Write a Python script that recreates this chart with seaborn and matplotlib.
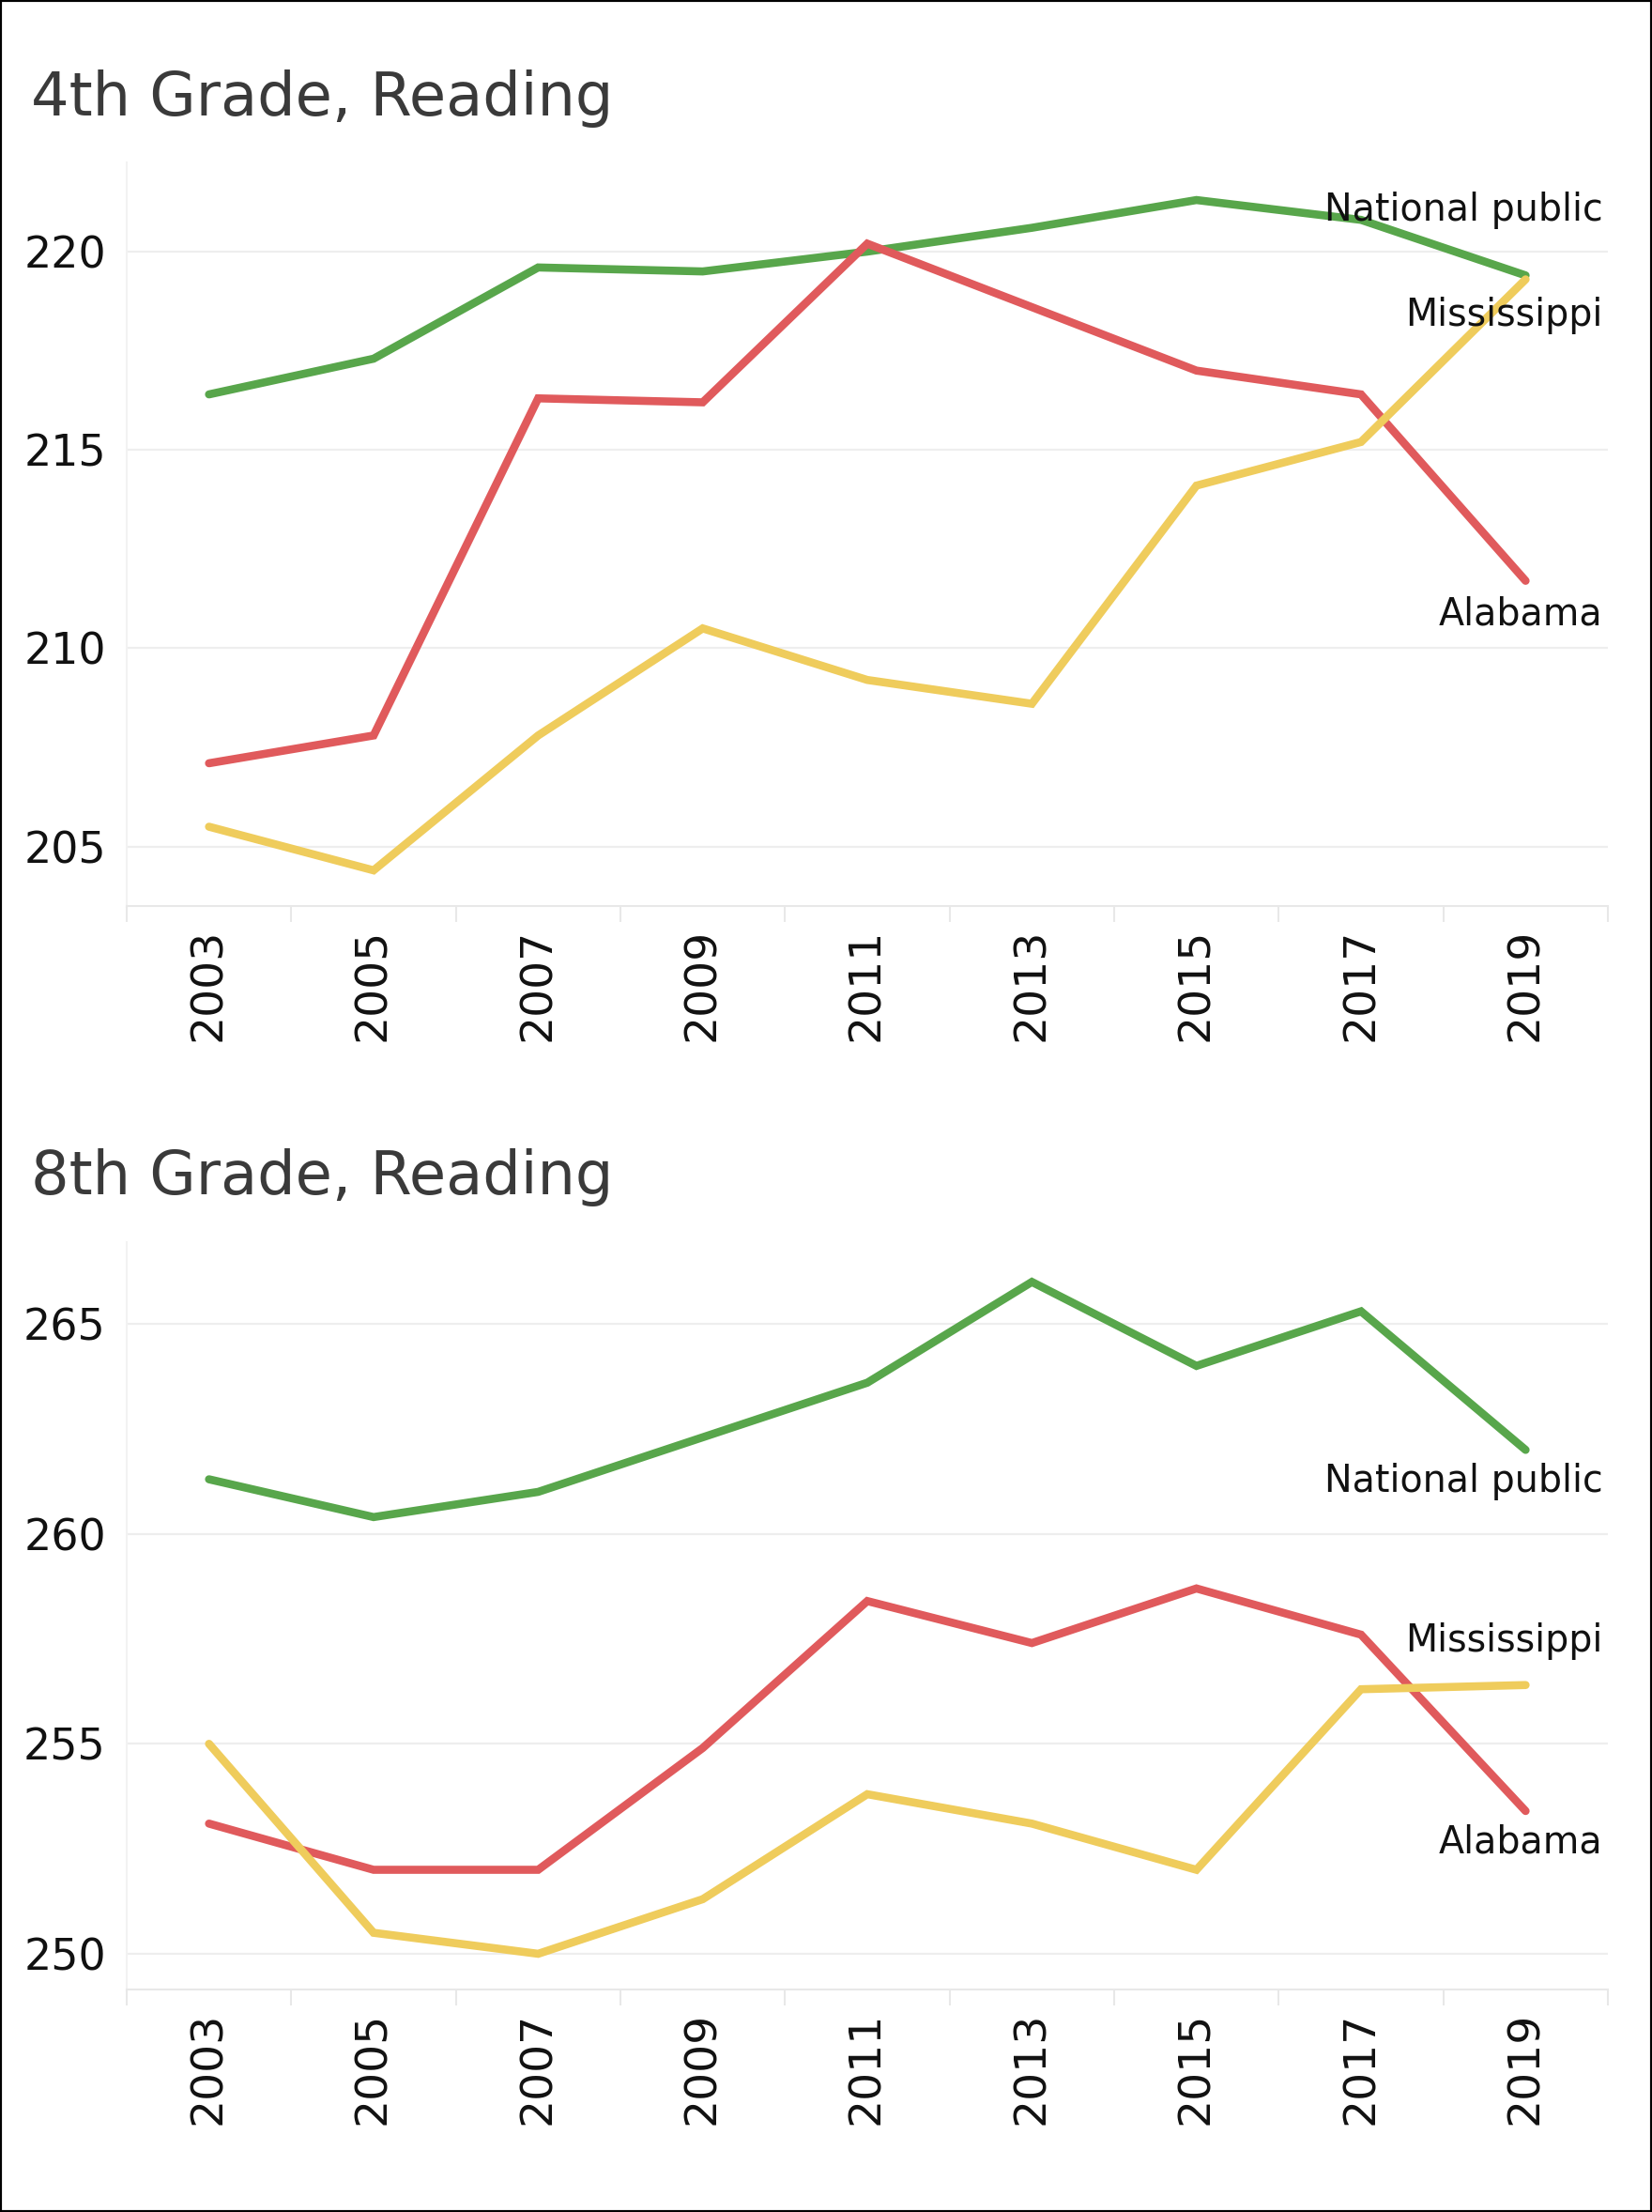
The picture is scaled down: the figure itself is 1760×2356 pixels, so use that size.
import matplotlib
matplotlib.use("Agg")
import matplotlib.pyplot as plt
from matplotlib.patches import Rectangle
from matplotlib.ticker import FixedLocator
import numpy as np
import pandas as pd
import seaborn as sns

# NAEP average reading scale scores
years = [2003, 2005, 2007, 2009, 2011, 2013, 2015, 2017, 2019]
series_names = ["National public", "Alabama", "Mississippi"]

g4_national = [216.4, 217.3, 219.6, 219.5, 220.0, 220.6, 221.3, 220.8, 219.4]
g4_alabama = [207.1, 207.8, 216.3, 216.2, 220.2, 218.6, 217.0, 216.4, 211.7]
g4_mississippi = [205.5, 204.4, 207.8, 210.5, 209.2, 208.6, 214.1, 215.2, 219.3]

g8_national = [261.3, 260.4, 261.0, 262.3, 263.6, 266.0, 264.0, 265.3, 262.0]
g8_alabama = [253.1, 252.0, 252.0, 254.9, 258.4, 257.4, 258.7, 257.6, 253.4]
g8_mississippi = [255.0, 250.5, 250.0, 251.3, 253.8, 253.1, 252.0, 256.3, 256.4]

panel_titles = ["4th Grade, Reading", "8th Grade, Reading"]
yticks_g4 = [205, 210, 215, 220]
yticks_g8 = [250, 255, 260, 265]

palette = {
    "National public": "#58a64b",
    "Alabama": "#e05a5c",
    "Mississippi": "#efcc5c",
}

# vertical offsets (points) of the end-of-line labels
label_offsets_g4 = {"National public": 50, "Mississippi": -28, "Alabama": -26}
label_offsets_g8 = {"National public": -24, "Mississippi": 34, "Alabama": -24}


def make_frame(national, alabama, mississippi):
    frames = []
    for name, vals in zip(series_names, [national, alabama, mississippi]):
        frames.append(pd.DataFrame({"year": years, "score": vals, "series": name}))
    df = pd.concat(frames, ignore_index=True)
    df["pos"] = df["year"].map({y: i for i, y in enumerate(years)})
    return df


sns.set_theme(style="white")
plt.rcParams["font.family"] = ["DejaVu Sans"]

fig = plt.figure(figsize=(17.6, 23.56), dpi=100)
fig.patch.set_facecolor("white")

ax_top = fig.add_axes([0.0767, 0.5904, 0.8966, 0.3362])
ax_bot = fig.add_axes([0.0767, 0.1006, 0.8966, 0.3379])

panels = [
    (ax_top, make_frame(g4_national, g4_alabama, g4_mississippi), yticks_g4,
     (203.5, 222.25), label_offsets_g4, 0.9480),
    (ax_bot, make_frame(g8_national, g8_alabama, g8_mississippi), yticks_g8,
     (249.15, 266.95), label_offsets_g8, 0.4600),
]

for (ax, df, yt, ylim, offsets, title_y), title in zip(panels, panel_titles):
    sns.lineplot(data=df, x="pos", y="score", hue="series", palette=palette,
                 hue_order=series_names, legend=False, ax=ax)
    for line in ax.lines:
        line.set_linewidth(6.2)
        line.set_solid_joinstyle("miter")
        line.set_solid_capstyle("round")
    ax.set_xlim(-0.5, len(years) - 0.5)
    ax.set_ylim(*ylim)
    ax.set_xlabel("")
    ax.set_ylabel("")

    ax.set_xticks(range(len(years)))
    ax.set_xticklabels([str(y) for y in years], rotation=90, fontsize=34,
                       color="#111111")
    ax.xaxis.set_minor_locator(FixedLocator(np.arange(-0.5, len(years), 1.0)))
    ax.tick_params(axis="x", which="major", length=0, pad=17)
    ax.tick_params(axis="x", which="minor", length=12, width=1.5,
                   color="#e8e8e8", direction="out")
    ax.tick_params(axis="x", which="both", bottom=True)

    ax.set_yticks(yt)
    ax.set_yticklabels([str(v) for v in yt], fontsize=33, color="#111111")
    ax.tick_params(axis="y", length=0, pad=16)
    ax.yaxis.grid(True, color="#eeeeee", linewidth=1.6)
    ax.xaxis.grid(False)
    ax.set_axisbelow(True)

    for side in ["top", "right"]:
        ax.spines[side].set_visible(False)
    ax.spines["left"].set_color("#f2f2f2")
    ax.spines["left"].set_linewidth(1.5)
    ax.spines["bottom"].set_color("#e8e8e8")
    ax.spines["bottom"].set_linewidth(1.5)

    # end-of-line series labels
    for name in series_names:
        end_val = df.loc[df["series"] == name, "score"].iloc[-1]
        ax.annotate(name, xy=(1.0, end_val),
                    xycoords=ax.get_yaxis_transform(),
                    xytext=(-4, offsets[name]), textcoords="offset points",
                    ha="right", va="center", fontsize=28.5, color="#111111")

    fig.text(0.019, title_y, title, fontsize=46, color="#3a3a3a",
             ha="left", va="baseline")

fig.patches.append(Rectangle((0, 0), 1, 1, transform=fig.transFigure,
                             fill=False, edgecolor="black", linewidth=3))

fig.savefig("out.png", dpi=100, facecolor="white")
